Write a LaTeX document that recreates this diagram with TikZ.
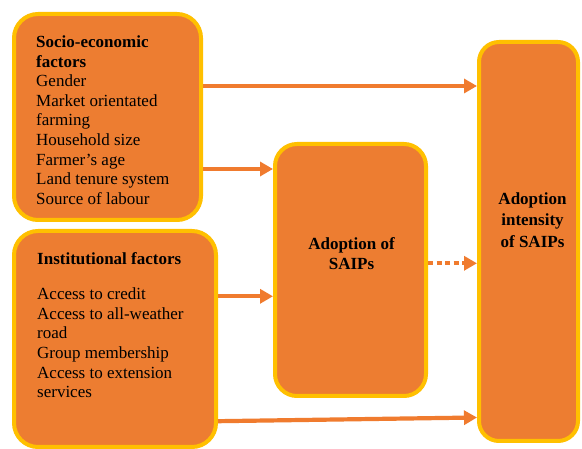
\documentclass[tikz,border=0pt]{standalone}
\usepackage{fontspec}
\setmainfont{Liberation Serif}
\usetikzlibrary{arrows.meta}
\definecolor{boxfill}{HTML}{ED7D31}
\definecolor{boxline}{HTML}{FFC000}
\definecolor{arrcol}{HTML}{F07B2E}
\tikzset{
  factorbox/.style={draw=boxline, fill=boxfill, line width=4pt, rounded corners=24pt, inner sep=0pt},
  boxtext/.style={inner sep=0pt, font=\fontsize{17}{19.6}\selectfont, text=black},
  arr/.style={draw=arrcol, line width=4.2pt, -{Triangle[length=13pt,width=14pt]}},
  dotarr/.style={arr, dash pattern=on 5pt off 3.5pt},
}
\begin{document}
\begin{tikzpicture}[x=1pt,y=-1pt]
\useasboundingbox[fill=white] (0,0) rectangle (582,449);
\node[factorbox, minimum width=187pt, minimum height=206pt] (socio) at (107.5,117) {};
\node[factorbox, minimum width=202pt, minimum height=216pt] (inst) at (115,339) {};
\node[factorbox, rounded corners=22pt, minimum width=151pt, minimum height=252pt] (adopt) at (350.5,270) {};
\node[factorbox, rounded corners=20pt, minimum width=99pt, minimum height=399pt] (inten) at (528.5,241.5) {};
\node[boxtext, anchor=north west, align=left] (sociotext) at (36,35.5)
 {\textbf{Socio-economic}\\\textbf{factors}\\Gender\\Market orientated\\farming\\Household size\\Farmer’s age\\Land tenure system\\Source of labour};
\node[boxtext, anchor=north west, align=left] (insttext) at (37,252.5)
 {\textbf{Institutional factors}\\[15.4pt]Access to credit\\Access to all-weather\\road\\Group membership\\Access to extension\\services};
\node[boxtext, anchor=north, align=center, font=\fontsize{17}{20}\selectfont\bfseries] (adopttext) at (351.5,237.5)
 {Adoption of\\SAIPs};
\node[boxtext, anchor=north, align=center, font=\fontsize{17}{21.3}\selectfont\bfseries] (intentext) at (532.5,192.5)
 {Adoption\\intensity\\of SAIPs};
\draw[arr] (socio.east |- 0,86) -- (inten.west |- 0,86);
\draw[arr] (socio.east |- 0,169) -- (adopt.west |- 0,169);
\draw[arr] (inst.east |- 0,296.3) -- (adopt.west |- 0,296.3);
\draw[dotarr] (adopt.east |- 0,263.3) -- (inten.west |- 0,263.3);
\draw[arr] (inst.east |- 0,421.2) -- (inten.west |- 0,417.5);
\end{tikzpicture}
\end{document}
